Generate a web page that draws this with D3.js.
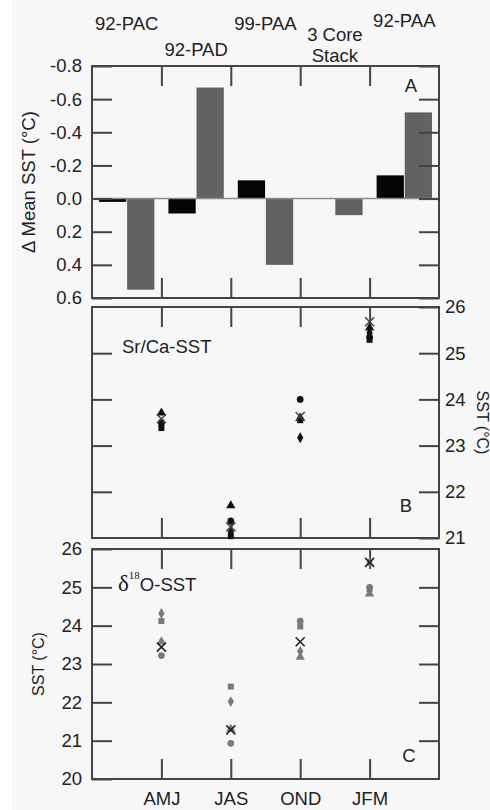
<!DOCTYPE html>
<html><head><meta charset="utf-8">
<script src="https://cdn.jsdelivr.net/npm/d3@7"></script>
<style>
html,body{margin:0;padding:0;background:#fff;}
svg{display:block;}
text{font-family:"Liberation Sans",Arial,sans-serif;fill:#222;}
</style></head>
<body>
<svg id="chart" width="490" height="810"></svg>
<script>
// ---------- DATA ----------
const groups = ["92-PAC", "92-PAD", "99-PAA", "3 Core Stack", "92-PAA"];
const deltaBlack = [0.02, 0.09, -0.11, 0.0, -0.14];
const deltaGray  = [0.55, -0.67, 0.40, 0.10, -0.52];
const deltaTicks = [-0.8, -0.6, -0.4, -0.2, 0.0, 0.2, 0.4, 0.6];

const seasons = ["AMJ", "JAS", "OND", "JFM"];

// Panel B: Sr/Ca-SST
const srCircle   = [23.50, 21.37, 24.00, 25.35];
const srSquare   = [23.38, 21.04, 23.55, 25.29];
const srDiamond  = [23.45, 21.13, 23.17, 25.44];
const srTriangle = [23.71, 21.70, 23.60, 25.55];
const srCross    = [23.58, 21.24, 23.63, 25.68];
const srTicks = [21, 22, 23, 24, 25, 26];

// Panel C: d18O-SST
const oCircle   = [23.22, 20.93, 24.12, 25.00];
const oSquare   = [24.12, 22.41, 23.98, 24.95];
const oDiamond  = [24.32, 22.02, 23.33, 25.65];
const oTriangle = [23.58, 21.30, 23.18, 24.83];
const oCross    = [23.44, 21.28, 23.58, 25.65];
const oTicks = [20, 21, 22, 23, 24, 25, 26];

// ---------- LAYOUT ----------
const svg = d3.select("#chart");
const X0 = 92, X1 = 439;
const frameColor = "#444";
const fs = 18.5;

svg.append("rect").attr("x", 12).attr("y", 0).attr("width", 478).attr("height", 810).attr("fill", "#f7f7f7");

function frame(y0, y1) {
  svg.append("rect").attr("x", X0).attr("y", y0).attr("width", X1 - X0).attr("height", y1 - y0)
    .attr("fill", "none").attr("stroke", frameColor).attr("stroke-width", 2);
}
function styleAxis(g) {
  g.select(".domain").remove();
  g.selectAll(".tick line").attr("stroke", frameColor).attr("stroke-width", 2);
  g.selectAll(".tick text").attr("font-size", fs).attr("fill", "#222")
    .attr("font-family", "Liberation Sans, Arial, sans-serif");
}

// ---------- PANEL A ----------
const aTop = 66, aBot = 298;
const xBand = d3.scaleBand().domain(groups).range([X0, X1]).paddingInner(0).paddingOuter(0);
const xInner = d3.scaleBand().domain(["black", "gray"]).range([0, xBand.bandwidth()]).paddingInner(0.03).paddingOuter(0.25);
const yA = d3.scaleLinear().domain([-0.8, 0.6]).range([aTop, aBot]);

const barData = [];
groups.forEach((g, i) => {
  barData.push({g, s: "black", v: deltaBlack[i]});
  barData.push({g, s: "gray", v: deltaGray[i]});
});
svg.append("g").selectAll("rect").data(barData).join("rect")
  .attr("x", d => xBand(d.g) + xInner(d.s))
  .attr("width", xInner.bandwidth())
  .attr("y", d => Math.min(yA(0), yA(d.v)))
  .attr("height", d => Math.abs(yA(d.v) - yA(0)))
  .attr("fill", d => d.s === "black" ? "#050505" : "#626262");

// zero line
svg.append("line").attr("x1", X0).attr("x2", X1).attr("y1", yA(0)).attr("y2", yA(0))
  .attr("stroke", "#8a8a8a").attr("stroke-width", 1.5);

svg.append("g").attr("transform", `translate(${X0},0)`)
  .call(d3.axisLeft(yA).tickValues(deltaTicks).tickFormat(d => d.toFixed(1)).tickSizeInner(-20).tickSizeOuter(0).tickPadding(10))
  .call(styleAxis);
svg.append("g").attr("transform", `translate(${X1},0)`)
  .call(d3.axisRight(yA).tickValues(deltaTicks).tickFormat("").tickSizeInner(-20).tickSizeOuter(0))
  .call(styleAxis);
const bandEdges = groups.slice(1).map(g => xBand(g));
svg.append("g").attr("transform", `translate(0,${aTop})`)
  .call(d3.axisTop(d3.scaleIdentity()).tickValues(bandEdges).tickFormat("").tickSizeInner(-20).tickSizeOuter(0))
  .call(styleAxis);
svg.append("g").attr("transform", `translate(0,${aBot})`)
  .call(d3.axisBottom(d3.scaleIdentity()).tickValues(bandEdges).tickFormat("").tickSizeInner(-20).tickSizeOuter(0))
  .call(styleAxis);
frame(aTop, aBot);

// group labels (staggered)
const labelY = [30, 56, 30, 41, 27];
groups.forEach((g, i) => {
  const cx = xBand(g) + xBand.bandwidth() / 2;
  if (g === "3 Core Stack") {
    const t = svg.append("text").attr("text-anchor", "middle").attr("font-size", fs);
    t.append("tspan").attr("x", cx).attr("y", labelY[i]).text("3 Core");
    t.append("tspan").attr("x", cx).attr("y", labelY[i] + 21).text("Stack");
  } else {
    svg.append("text").attr("x", cx).attr("y", labelY[i]).attr("text-anchor", "middle")
      .attr("font-size", fs).text(g);
  }
});
svg.append("text").attr("x", 411).attr("y", 92).attr("text-anchor", "middle").attr("font-size", fs).text("A");
svg.append("text").attr("transform", `translate(35,${(aTop + aBot) / 2}) rotate(-90)`)
  .attr("text-anchor", "middle").attr("font-size", 18.5).text("\u0394 Mean SST (\u00B0C)");

// ---------- MARKERS ----------
const xPt = d3.scalePoint().domain(seasons).range([X0, X1]).padding(1);
const symCircle = d3.symbol(d3.symbolCircle, 36)();
const symSquare = d3.symbol(d3.symbolSquare, 36)();
const symDiamond = d3.symbol(d3.symbolDiamond, 34)();
const symTriangle = d3.symbol(d3.symbolTriangle, 38)();
const symX = "M-4.5,-4.5L4.5,4.5M-4.5,4.5L4.5,-4.5";

function drawSeries(vals, y, path, fill, isStroke) {
  svg.append("g").selectAll("path").data(vals).join("path")
    .attr("transform", (d, i) => `translate(${xPt(seasons[i])},${y(d)})`)
    .attr("d", path)
    .attr("fill", isStroke ? "none" : fill)
    .attr("stroke", isStroke ? fill : "none")
    .attr("stroke-width", isStroke ? 1.6 : 0);
}

// ---------- PANEL B ----------
const bTop = 307, bBot = 538;
const yB = d3.scaleLinear().domain([21, 26]).range([bBot, bTop]);
svg.append("g").attr("transform", `translate(${X0},0)`)
  .call(d3.axisLeft(yB).tickValues([22, 23, 24, 25]).tickFormat("").tickSizeInner(-20).tickSizeOuter(0))
  .call(styleAxis);
svg.append("g").attr("transform", `translate(${X1},0)`)
  .call(d3.axisRight(yB).tickValues(srTicks).tickFormat(d3.format("d")).tickSizeInner(-20).tickSizeOuter(0).tickPadding(6))
  .call(styleAxis);
svg.append("g").attr("transform", `translate(0,${bTop})`)
  .call(d3.axisTop(xPt).tickFormat("").tickSizeInner(-20).tickSizeOuter(0)).call(styleAxis);
svg.append("g").attr("transform", `translate(0,${bBot})`)
  .call(d3.axisBottom(xPt).tickFormat("").tickSizeInner(-20).tickSizeOuter(0)).call(styleAxis);
frame(bTop, bBot);

drawSeries(srCircle, yB, symCircle, "#111");
drawSeries(srSquare, yB, symSquare, "#111");
drawSeries(srDiamond, yB, symDiamond, "#111");
drawSeries(srTriangle, yB, symTriangle, "#111");
drawSeries(srCross, yB, symX, "#444", true);

svg.append("text").attr("x", 122).attr("y", 353).attr("font-size", fs).text("Sr/Ca-SST");
svg.append("text").attr("x", 406).attr("y", 512).attr("text-anchor", "middle").attr("font-size", fs).text("B");
svg.append("text").attr("transform", `translate(477,${(bTop + bBot) / 2}) rotate(90)`)
  .attr("text-anchor", "middle").attr("font-size", 16).text("SST (\u00B0C)");

// ---------- PANEL C ----------
const cTop = 549, cBot = 779;
const yC = d3.scaleLinear().domain([20, 26]).range([cBot, cTop]);
svg.append("g").attr("transform", `translate(${X0},0)`)
  .call(d3.axisLeft(yC).tickValues(oTicks).tickFormat(d3.format("d")).tickSizeInner(-20).tickSizeOuter(0).tickPadding(10))
  .call(styleAxis);
svg.append("g").attr("transform", `translate(${X1},0)`)
  .call(d3.axisRight(yC).tickValues([21, 22, 23, 24, 25]).tickFormat("").tickSizeInner(-20).tickSizeOuter(0))
  .call(styleAxis);
svg.append("g").attr("transform", `translate(0,${cTop})`)
  .call(d3.axisTop(xPt).tickFormat("").tickSizeInner(-20).tickSizeOuter(0)).call(styleAxis);
svg.append("g").attr("transform", `translate(0,${cBot})`)
  .call(d3.axisBottom(xPt).tickSizeInner(-20).tickSizeOuter(0).tickPadding(13)).call(styleAxis);
frame(cTop, cBot);

drawSeries(oCircle, yC, symCircle, "#7a7a7a");
drawSeries(oSquare, yC, symSquare, "#7a7a7a");
drawSeries(oDiamond, yC, symDiamond, "#7a7a7a");
drawSeries(oTriangle, yC, symTriangle, "#7a7a7a");
drawSeries(oCross, yC, symX, "#222", true);

const dt = svg.append("text").attr("x", 118).attr("y", 591).attr("font-size", fs);
dt.append("tspan").attr("font-family", "Liberation Serif, Times New Roman, serif").attr("font-size", 23).text("\u03B4");
dt.append("tspan").attr("font-family", "Liberation Serif, Times New Roman, serif").attr("font-size", 11).attr("dy", -12).text("18");
dt.append("tspan").attr("dy", 12).text("O-SST");
svg.append("text").attr("x", 409).attr("y", 762).attr("text-anchor", "middle").attr("font-size", fs).text("C");
svg.append("text").attr("transform", `translate(44,${(cTop + cBot) / 2}) rotate(-90)`)
  .attr("text-anchor", "middle").attr("font-size", 16).text("SST (\u00B0C)");
</script>
</body></html>
